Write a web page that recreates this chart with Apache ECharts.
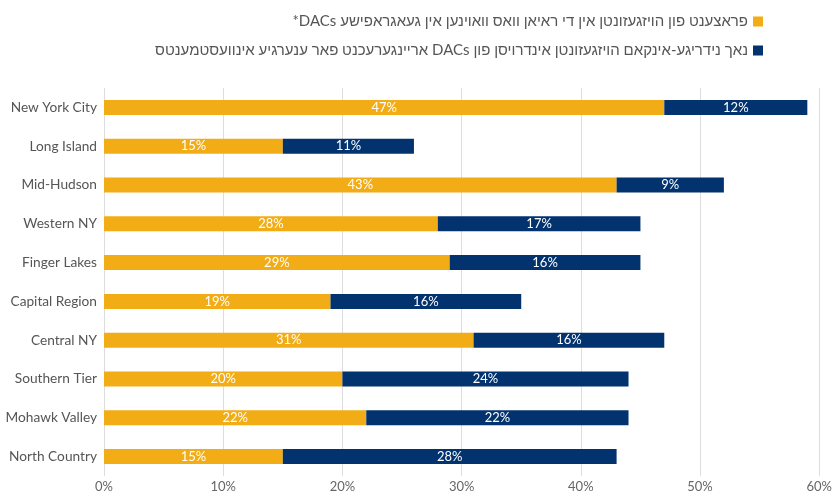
<!DOCTYPE html>
<html>
<head>
<meta charset="utf-8">
<script src="https://cdn.jsdelivr.net/npm/echarts@6/dist/echarts.min.js"></script>
<style>html,body{margin:0;padding:0;background:#fff}#c{width:835px;height:493px}</style>
</head>
<body>
<div id="c"></div>
<script>
const categories = ['New York City','Long Island','Mid-Hudson','Western NY','Finger Lakes','Capital Region','Central NY','Southern Tier','Mohawk Valley','North Country'];
const seriesNames = ['פראצענט פון הויזגעזונטן אין די ראיאן וואס וואוינען אין געאגראפישע DACs*', 'נאך נידריגע-אינקאם הויזגעזונטן אינדרויסן פון DACs אריינגערעכנט פאר ענערגיע אינוועסטמענטס'];
const dacShare = [47,15,43,28,29,19,31,20,22,15];
const lowIncomeOutside = [12,11,9,17,16,16,16,24,22,28];
const xTicks = [0,10,20,30,40,50,60];

const chart = echarts.init(document.getElementById('c'));
const font = 'Lato, "Liberation Sans", sans-serif';
chart.setOption({
  animation:false,
  textStyle:{fontFamily:font},
  legend:{
    orient:'vertical', right:67, top:9, align:'right',
    itemWidth:10, itemHeight:10, itemGap:14,
    icon:'rect',
    formatter:n=>'\u202B'+n+'\u202C',
    textStyle:{fontSize:15,color:'#555',fontFamily:font},
    data:seriesNames
  },
  grid:{left:104,right:15,top:88,bottom:15,containLabel:false},
  xAxis:{type:'value',min:xTicks[0],max:xTicks[xTicks.length-1],interval:10,
    axisLabel:{formatter:v=>v+'%',color:'#666',fontSize:13,margin:4,fontFamily:font},
    splitLine:{lineStyle:{color:'#ddd'}},
    axisLine:{show:false},axisTick:{show:false}},
  yAxis:{type:'category',data:categories,inverse:true,
    axisLabel:{color:'#555',fontSize:13.7,margin:7,fontFamily:font},
    axisLine:{show:false},axisTick:{show:false}},
  series:[
    {name:seriesNames[0],type:'bar',stack:'a',data:dacShare,barWidth:15,
     itemStyle:{color:'#F2AC15'},
     label:{show:true,position:'inside',formatter:p=>p.value+'%',color:'#fff',fontSize:13,fontFamily:font}},
    {name:seriesNames[1],type:'bar',stack:'a',data:lowIncomeOutside,barWidth:15,
     itemStyle:{color:'#03336F'},
     label:{show:true,position:'inside',formatter:p=>p.value+'%',color:'#fff',fontSize:13,fontFamily:font}}
  ]
});
</script>
</body>
</html>
